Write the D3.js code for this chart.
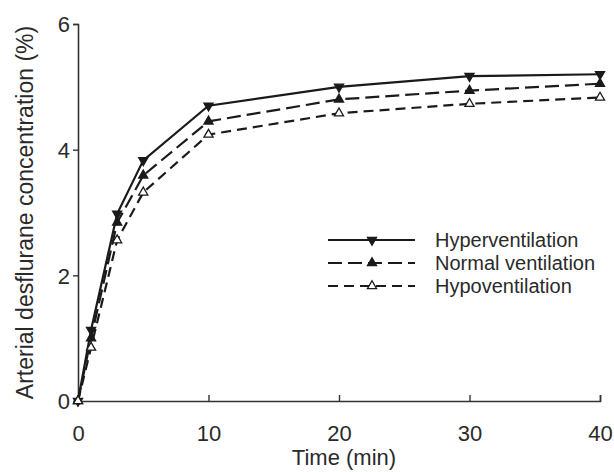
<!DOCTYPE html>
<html>
<head>
<meta charset="utf-8">
<script src="https://cdn.jsdelivr.net/npm/d3@7"></script>
<style>
  body { margin: 0; background: #fff; }
  text { font-family: "Liberation Sans", Arial, sans-serif; fill: #2a2a2a; }
</style>
</head>
<body>
<div id="chart"></div>
<script>
/* data */
const times = [0, 1, 3, 5, 10, 20, 30, 40];
const hyper  = [0, 1.13, 2.98, 3.83, 4.70, 5.00, 5.17, 5.20];
const normal = [0, 1.00, 2.84, 3.59, 4.45, 4.80, 4.94, 5.05];
const hypo   = [0, 0.85, 2.56, 3.32, 4.24, 4.58, 4.73, 4.83];
const seriesNames = ["Hyperventilation", "Normal ventilation", "Hypoventilation"];
const xTicks = [0, 10, 20, 30, 40];
const yTicks = [0, 2, 4, 6];

const W = 614, H = 472;
const x = d3.scaleLinear().domain([0, 40]).range([78, 600]);
const y = d3.scaleLinear().domain([0, 6]).range([401, 24]);

const svg = d3.select("#chart").append("svg")
    .attr("width", W).attr("height", H);

/* series styles */
const series = [
  { name: seriesNames[0], vals: hyper,  dash: null,   marker: "down", fill: "#1a1a1a" },
  { name: seriesNames[1], vals: normal, dash: "14,6", marker: "up",   fill: "#1a1a1a" },
  { name: seriesNames[2], vals: hypo,   dash: "10,6", marker: "up",   fill: "#fff" }
];

const tri = d3.symbol().type(d3.symbolTriangle).size(36);

/* axes */
const xAxis = svg.append("g").attr("transform", `translate(0,${y(0)})`)
    .call(d3.axisBottom(x).tickValues(xTicks).tickFormat(d3.format("d")).tickSize(-6).tickPadding(24));
const yAxis = svg.append("g").attr("transform", `translate(${x(0)},0)`)
    .call(d3.axisLeft(y).tickValues(yTicks).tickFormat(d3.format("d")).tickSize(5).tickPadding(3));
[xAxis, yAxis].forEach(a => {
  a.select(".domain").attr("stroke", "#333").attr("stroke-width", 1.6);
  a.selectAll(".tick line").attr("stroke", "#333").attr("stroke-width", 1.4);
  a.selectAll(".tick text").attr("font-size", 22).attr("fill", "#2a2a2a")
    .attr("font-family", "Liberation Sans, Arial, sans-serif");
});
xAxis.selectAll(".tick text").attr("dy", "0.71em");
yAxis.selectAll(".tick text").attr("dy", "0.36em");

/* axis titles */
svg.append("text").attr("x", 344).attr("y", 465)
   .attr("text-anchor", "middle").attr("font-size", 22).text("Time (min)");
svg.append("text")
   .attr("transform", `translate(33,${(y(0) + y(6)) / 2}) rotate(-90)`)
   .attr("text-anchor", "middle").attr("font-size", 23)
   .text("Arterial desflurane concentration (%)");

/* lines and markers */
const line = d3.line().x((d, i) => x(times[i])).y(d => y(d));
series.forEach(s => {
  svg.append("path").datum(s.vals)
     .attr("fill", "none").attr("stroke", "#1a1a1a").attr("stroke-width", 2.2)
     .attr("stroke-dasharray", s.dash)
     .attr("d", line);
  svg.selectAll(null).data(s.vals).enter().append("path")
     .attr("d", tri())
     .attr("transform", (d, i) => `translate(${x(times[i])},${y(d)}) rotate(${s.marker === "down" ? 180 : 0})`)
     .attr("fill", s.fill).attr("stroke", "#1a1a1a").attr("stroke-width", 1.3);
});

/* legend */
const legend = svg.append("g").attr("transform", "translate(328,240)");
series.forEach((s, i) => {
  const g = legend.append("g").attr("transform", `translate(0,${i * 23})`);
  g.append("line").attr("x1", 0).attr("x2", 87).attr("y1", 0).attr("y2", 0)
   .attr("stroke", "#1a1a1a").attr("stroke-width", 2)
   .attr("stroke-dasharray", s.dash);
  g.append("path").attr("d", tri())
   .attr("transform", `translate(44,0) rotate(${s.marker === "down" ? 180 : 0})`)
   .attr("fill", s.fill).attr("stroke", "#1a1a1a").attr("stroke-width", 1.3);
  g.append("text").attr("x", 107).attr("y", 0).attr("dy", "0.35em")
   .attr("font-size", 20).text(s.name);
});
</script>
</body>
</html>
